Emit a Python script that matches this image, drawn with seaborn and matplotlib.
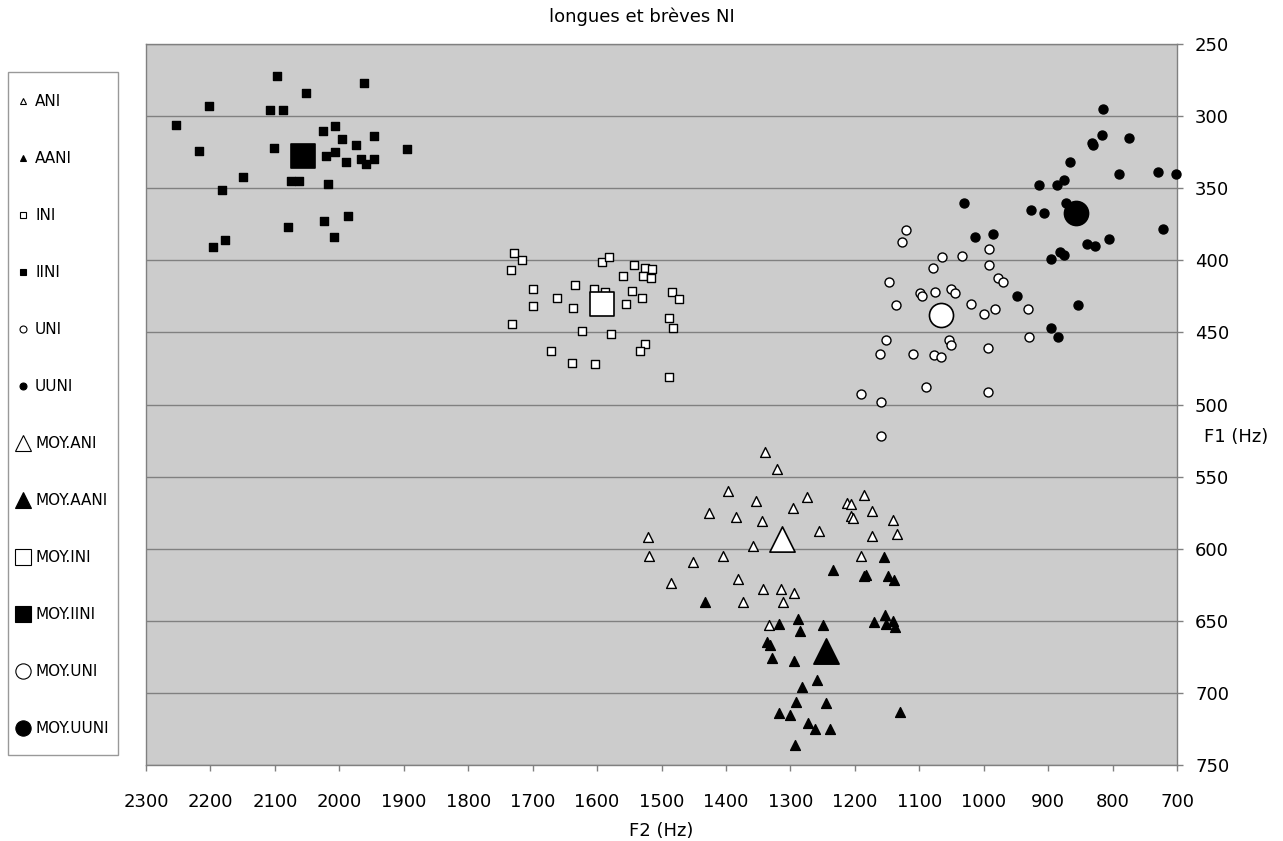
"""
Voyelles NI — F1/F2, longues et brèves
"""

import matplotlib
matplotlib.use("Agg")
import matplotlib.pyplot as plt
from matplotlib.lines import Line2D
from matplotlib.patches import Rectangle
import seaborn as sns

# --- data (F2, F1 in Hz) ---
ani_f2 = [1340, 1321, 1397, 1354, 1274, 1185, 1212, 1206, 1426, 1296, 1174, 1384, 1344, 1206, 1203, 1140, 1255,
          1521, 1173, 1134, 1358, 1519, 1451, 1404, 1190, 1485, 1382, 1343, 1315, 1295, 1373, 1312, 1333]
ani_f1 = [533, 545, 560, 567, 564, 563, 568, 569, 575, 572, 574, 578, 581, 577, 579, 580, 588,
          592, 591, 590, 598, 605, 609, 605, 605, 624, 621, 628, 628, 631, 637, 637, 653]

aani_f2 = [1154, 1234, 1186, 1182, 1148, 1139, 1432, 1318, 1288, 1249, 1285, 1153, 1170, 1151, 1140, 1137,
           1337, 1332, 1328, 1294, 1259, 1282, 1291, 1245, 1318, 1300, 1130, 1272, 1262, 1239, 1293]
aani_f1 = [606, 615, 619, 618, 619, 622, 637, 652, 649, 653, 657, 646, 651, 652, 650, 654,
           665, 667, 676, 678, 691, 696, 706, 707, 714, 715, 713, 721, 725, 725, 736]

ini_f2 = [1729, 1716, 1734, 1592, 1582, 1543, 1526, 1514, 1560, 1529, 1516, 1699, 1635, 1604, 1587, 1546, 1484,
          1473, 1662, 1531, 1555, 1699, 1638, 1489, 1482, 1732, 1624, 1578, 1526, 1534, 1672, 1639, 1603, 1489]
ini_f1 = [395, 400, 407, 401, 398, 403, 405, 406, 411, 411, 412, 420, 417, 420, 422, 421, 422,
          427, 426, 426, 430, 432, 433, 440, 447, 444, 449, 451, 458, 463, 463, 471, 472, 481]

iini_f2 = [2096, 1961, 2052, 2202, 2107, 2087, 2253, 2025, 2007, 1996, 1946, 1974, 2218, 2101, 1895, 2006,
           2021, 1990, 1966, 1959, 1946, 2150, 2075, 2063, 2018, 2182, 1987, 2023, 2080, 2009, 2177, 2196]
iini_f1 = [272, 277, 284, 293, 296, 296, 306, 310, 307, 316, 314, 320, 324, 322, 323, 325,
           328, 332, 330, 333, 330, 342, 345, 345, 347, 351, 369, 373, 377, 384, 386, 391]

uni_f2 = [1120, 1126, 992, 1065, 1034, 1079, 991, 978, 970, 1147, 1099, 1096, 1075, 1050, 1045, 1136, 1020,
          1000, 982, 931, 1151, 1054, 1050, 929, 1161, 1110, 1077, 1067, 993, 1089, 994, 1190, 1160, 1160]
uni_f1 = [379, 387, 392, 398, 397, 405, 403, 412, 415, 415, 423, 425, 422, 420, 423, 431, 430,
          437, 434, 434, 455, 455, 459, 453, 465, 465, 466, 467, 461, 488, 491, 493, 498, 522]

uuni_f2 = [815, 816, 775, 832, 831, 866, 790, 729, 702, 875, 914, 886, 1031, 872, 927, 906, 721,
           1014, 985, 805, 839, 827, 881, 875, 896, 948, 854, 895, 885]
uuni_f1 = [295, 313, 315, 319, 320, 332, 340, 339, 340, 344, 348, 348, 360, 360, 365, 367, 378,
           384, 382, 385, 389, 390, 394, 396, 399, 425, 431, 447, 453]

# means (MOY.*)
moy_labels = ["MOY.ANI", "MOY.AANI", "MOY.INI", "MOY.IINI", "MOY.UNI", "MOY.UUNI"]
moy_f2 = [1313, 1245, 1592, 2056, 1066, 856]
moy_f1 = [593, 671, 430, 328, 438, 367]

f2_ticks = list(range(2300, 699, -100))
f1_ticks = list(range(250, 751, 50))

# label, data, marker, fill, size
groups = [
    ("ANI", ani_f2, ani_f1, "^", "white", 50),
    ("AANI", aani_f2, aani_f1, "^", "black", 50),
    ("INI", ini_f2, ini_f1, "s", "white", 38),
    ("IINI", iini_f2, iini_f1, "s", "black", 38),
    ("UNI", uni_f2, uni_f1, "o", "white", 42),
    ("UUNI", uuni_f2, uuni_f1, "o", "black", 42),
]
moy_style = [("^", "white", 330), ("^", "black", 330), ("s", "white", 300),
             ("s", "black", 300), ("o", "white", 300), ("o", "black", 300)]

plt.rcParams["font.family"] = ["DejaVu Sans"]

fig = plt.figure(figsize=(12.83, 8.41), dpi=100)
ax = fig.add_axes([146 / 1283, 1 - 765 / 841, (1177 - 146) / 1283, (765 - 44) / 841])
ax.set_facecolor("#cccccc")

for name, xs, ys, mk, fc, size in groups:
    sns.scatterplot(x=xs, y=ys, ax=ax, marker=mk, s=size, color=fc,
                    edgecolor="black", linewidth=1.0, legend=False, zorder=3, clip_on=False)

for i in range(len(moy_labels)):
    mk, fc, size = moy_style[i]
    sns.scatterplot(x=[moy_f2[i]], y=[moy_f1[i]], ax=ax, marker=mk, s=size, color=fc,
                    edgecolor="black", linewidth=1.2, legend=False, zorder=4)

ax.set_xlim(2300, 700)
ax.set_ylim(750, 250)
ax.set_xticks(f2_ticks)
ax.set_yticks(f1_ticks)
ax.yaxis.tick_right()
ax.yaxis.set_label_position("right")
ax.tick_params(axis="both", labelsize=13, colors="#808080", labelcolor="black", length=4, width=1)
ax.tick_params(axis="y", pad=9)
ax.tick_params(axis="x", pad=16.5)
ax.grid(axis="y", color="#808080", linewidth=1)
ax.set_axisbelow(True)
for sp in ax.spines.values():
    sp.set_color("#808080")
    sp.set_linewidth(1)

ax.set_xlabel("F2 (Hz)", fontsize=13, labelpad=7.5)
ax.set_ylabel("F1 (Hz)", fontsize=13, rotation=0, ha="center", va="center")
ax.yaxis.set_label_coords(1.057, 0.455)

fig.text(0.5, 1 - 17 / 841, "longues et brèves NI", ha="center", va="center", fontsize=13)

# legend
handles = []
labels = []
for name, xs, ys, mk, fc, size in groups:
    handles.append(Line2D([], [], ls="none", marker=mk, markersize=5, markerfacecolor=fc,
                          markeredgecolor="black", markeredgewidth=0.8))
    labels.append(name)
for i in range(len(moy_labels)):
    mk, fc, size = moy_style[i]
    handles.append(Line2D([], [], ls="none", marker=mk, markersize=11, markerfacecolor=fc,
                          markeredgecolor="black", markeredgewidth=0.8))
    labels.append(moy_labels[i])

fig.legend(handles, labels, loc="upper left",
           bbox_to_anchor=(16 / 1283, 1 - 94 / 841), fontsize=11, labelspacing=2.75,
           handlelength=0.9, handletextpad=0.35, borderpad=0, borderaxespad=0,
           frameon=False)
fig.add_artist(Rectangle((8 / 1283, 1 - 755 / 841), 110 / 1283, 683 / 841,
                         transform=fig.transFigure, fill=False, edgecolor="#999999", linewidth=1))

fig.savefig("out.png", dpi=100)
plt.close(fig)
